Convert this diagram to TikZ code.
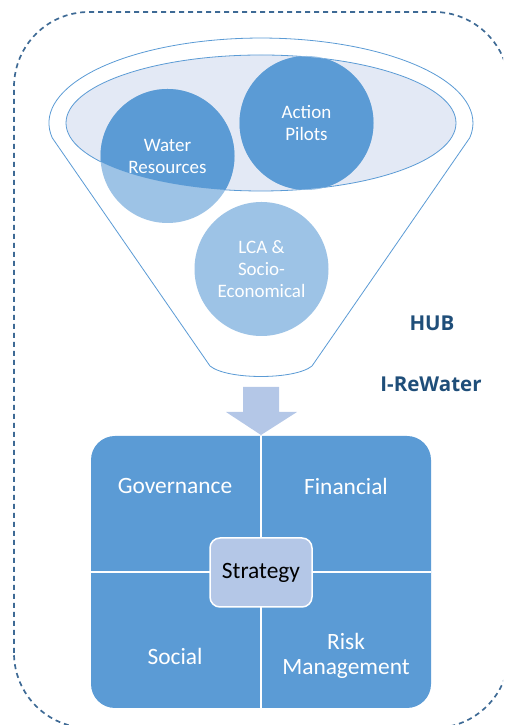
\documentclass[tikz,border=0pt]{standalone}
\usepackage{fontspec}
\setmainfont{Carlito}
\newfontfamily\hubfont{Open Sans}
\usetikzlibrary{positioning}
\definecolor{hubblue}{HTML}{5B9BD5}
\definecolor{hublight}{HTML}{9DC3E6}
\definecolor{hubpale}{HTML}{B4C7E7}
\definecolor{hubmist}{HTML}{E3E9F5}
\definecolor{hubdark}{HTML}{1F4E79}
\definecolor{hubdash}{HTML}{3E6A95}
\tikzset{
  bubble/.style={circle, minimum size=134pt, inner sep=0pt},
  bubbletext/.style={text=white, align=center, font=\fontsize{19}{22}\selectfont},
  quadtext/.style={text=white, align=center, font=\fontsize{23.4}{25}\selectfont},
  hubtext/.style={text=hubdark, font=\hubfont\bfseries\fontsize{20.5}{24}\selectfont},
}

\begin{document}
\begin{tikzpicture}[x=1pt,y=1pt]
    \useasboundingbox (0,0) rectangle (504,725);
    % Outer frame, cut at the page edge
    \begin{scope}
        \clip (0,0) rectangle (503,725);
        \draw[hubdash, line width=1.7pt, dash pattern=on 5pt off 4pt, rounded corners=75pt] (14,-3) rectangle (509,713);
    \end{scope}

    % Funnel
    \coordinate (funnelBL) at (210,359);
    \coordinate (funnelBR) at (312,359);
    \filldraw[fill=white, draw=hubblue, line width=0.8pt] (funnelBL) -- (52.2,587.2)
        arc[start angle=190, end angle=-10, x radius=212, y radius=85] -- (funnelBR)
        .. controls (295,345) and (227,345) .. (funnelBL) -- cycle;
    \filldraw[fill=hubmist, draw=hubblue, line width=0.8pt] (261,602) ellipse [x radius=195, y radius=68];

    % Bubbles
    \node[bubble, fill=hublight] (water) at (167.5,569) {};
    \node[bubble, fill=hublight] (pilots) at (306.5,602) {};
    \node[bubble, fill=hublight] (lca) at (261.5,456) {};
    \begin{scope}
        \clip (261,602) ellipse [x radius=195, y radius=68];
        \fill[hubblue] (water) circle (67);
        \fill[hubblue] (pilots) circle (67);
    \end{scope}
    \node[bubbletext] (waterlabel) at (water) {Water\\Resources};
    \node[bubbletext] (pilotslabel) at (pilots) {Action\\Pilots};
    \node[bubbletext] (lcalabel) at (lca) {LCA \&\\Socio-\\Economical};

    % Arrow
    \fill[hubpale] (243,338) -- (279,338) -- (279,313) -- (297,313) -- (261,290)
        -- (226,313) -- (243,313) -- cycle;

    % Strategy board
    \node[fill=hubblue, rounded corners=24pt, minimum width=340pt, minimum height=272pt] (board) at (261,153) {};
    \draw[white, line width=1.5pt] (board.north) -- (board.south);
    \draw[white, line width=1.5pt] (board.west) -- (board.east);
    \node[fill=hubpale, draw=white, line width=1.5pt, rounded corners=10pt, minimum width=102pt,
        minimum height=69pt, font=\fontsize{23.4}{25}\selectfont] (strategy) at (261,152.5) {Strategy};
    \node[quadtext] (governance) at (175,239) {Governance};
    \node[quadtext] (financial) at (346,239) {Financial};
    \node[quadtext] (social) at (175,69) {Social};
    \node[quadtext] (risk) at (346,69.5) {Risk\\Management};

    % Hub labels
    \node[hubtext] (hub) at (432,402) {HUB};
    \node[hubtext] (irewater) at (431,341) {I-ReWater};
\end{tikzpicture}
\end{document}
